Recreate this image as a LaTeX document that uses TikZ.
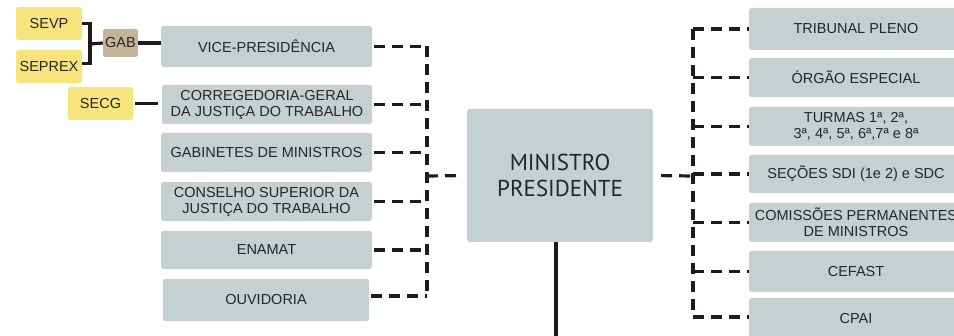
\documentclass[tikz,border=0pt]{standalone}
\usepackage{fontspec}
\setmainfont{Liberation Sans}
\newfontfamily\headfont{PT Sans}
\definecolor{boxgrey}{HTML}{C5D0D1}
\definecolor{secyellow}{HTML}{F7E47C}
\definecolor{gabtan}{HTML}{C3B59A}
\definecolor{inkgrey}{HTML}{262626}
\definecolor{linedark}{HTML}{1E1B1C}

\begin{document}
\begin{tikzpicture}[x=1pt,y=-1pt,
    orgbox/.style={fill=boxgrey,rounded corners=2.5pt,inner sep=0pt,align=center,text=inkgrey,
        font=\fontsize{14.5}{16}\selectfont,minimum width=211pt,minimum height=39pt},
    secbox/.style={orgbox,fill=secyellow,minimum width=66pt,minimum height=33pt},
    dashline/.style={draw=linedark,line width=3.2pt,dash pattern=on 11pt off 7pt},
    solidline/.style={draw=linedark,line width=3.2pt}]
    \useasboundingbox(0,0)rectangle(954,336);
    \clip(0,0)rectangle(954,336);
    % centre
    \node[orgbox,minimum width=186pt,minimum height=133pt,font=\headfont\fontsize{23}{25.5}\selectfont](min)at(560,175.5){MINISTRO\\PRESIDENTE};
    % left column
    \node[orgbox,minimum height=41pt](vice)at(266.5,46.5){VICE-PRESIDÊNCIA};
    \node[orgbox,minimum width=210pt](correg)at(267,104.5){CORREGEDORIA-GERAL\\DA JUSTIÇA DO TRABALHO};
    \node[orgbox](gabin)at(266.5,152.5){GABINETES DE MINISTROS};
    \node[orgbox](csjt)at(266.5,201.5){CONSELHO SUPERIOR DA\\JUSTIÇA DO TRABALHO};
    \node[orgbox,minimum height=38pt](enamat)at(266.5,250){ENAMAT};
    \node[orgbox,minimum width=206pt,minimum height=42pt](ouvid)at(266,300){OUVIDORIA};
    % secretarias
    \node[secbox](sevp)at(49,23.5){SEVP};
    \node[secbox](seprex)at(49,66.5){SEPREX};
    \node[secbox,minimum width=65pt](secg)at(100.5,103.5){SECG};
    \node[secbox,fill=gabtan,minimum width=35pt,minimum height=28pt](gab)at(120.5,43){GAB};
    % right column
    \node[orgbox,minimum width=214pt,minimum height=42pt](pleno)at(856,29){TRIBUNAL PLENO};
    \node[orgbox,minimum width=214pt](orgao)at(856,77.5){ÓRGÃO ESPECIAL};
    \node[orgbox,minimum width=214pt](turmas)at(856,126.5){TURMAS 1ª, 2ª,\\3ª, 4ª, 5ª, 6ª,7ª e 8ª};
    \node[orgbox,minimum width=214pt,minimum height=38pt](secoes)at(856,174){SEÇÕES SDI (1e 2) e SDC};
    \node[orgbox,minimum width=214pt](comis)at(856,222.5){COMISSÕES PERMANENTES\\DE MINISTROS};
    \node[orgbox,minimum width=214pt,minimum height=41pt](cefast)at(856,271.5){CEFAST};
    \node[orgbox,minimum width=214pt,minimum height=42pt](cpai)at(856,319){CPAI};
    % buses
    \coordinate(lbus)at(427,176);
    \coordinate(rbus)at(693,176);
    \coordinate(gbus)at(90,44);
    \coordinate(down)at(556,340);
    % left connectors
    \foreach \b in {vice,correg,gabin,csjt,enamat}
        \draw[dashline,shorten <=2pt](\b.east)--(\b.east -| lbus);
    \draw[dashline,shorten <=2pt]([yshift=4pt]ouvid.east)--([yshift=4pt]ouvid.east -| lbus);
    \draw[dashline](vice.east -| lbus)--([yshift=4pt]ouvid.east -| lbus);
    \draw[dashline,shorten >=4pt](lbus)--(min.west);
    % right connectors
    \draw[dashline,shorten <=8pt](min.east)--(rbus);
    \draw[dashline](pleno.west -| rbus)--([yshift=2pt]cpai.west -| rbus);
    \foreach \b in {pleno,orgao,turmas,secoes,comis,cefast}
        \draw[dashline](\b.west -| rbus)--(\b.west);
    \draw[dashline]([yshift=2pt]cpai.west -| rbus)--([yshift=2pt]cpai.west);
    % gabinete and secretarias
    \draw[solidline](sevp.east)-|(gbus)|-([yshift=3pt]seprex.east);
    \draw[solidline](gbus)--(gab.west);
    \draw[solidline](gab.east)--(gab.east -| vice.west);
    \draw[solidline,shorten <=2pt,shorten >=4pt](secg.east)--(secg.east -| correg.west);
    \draw[solidline](down |- min.south)--(down);
\end{tikzpicture}
\end{document}
